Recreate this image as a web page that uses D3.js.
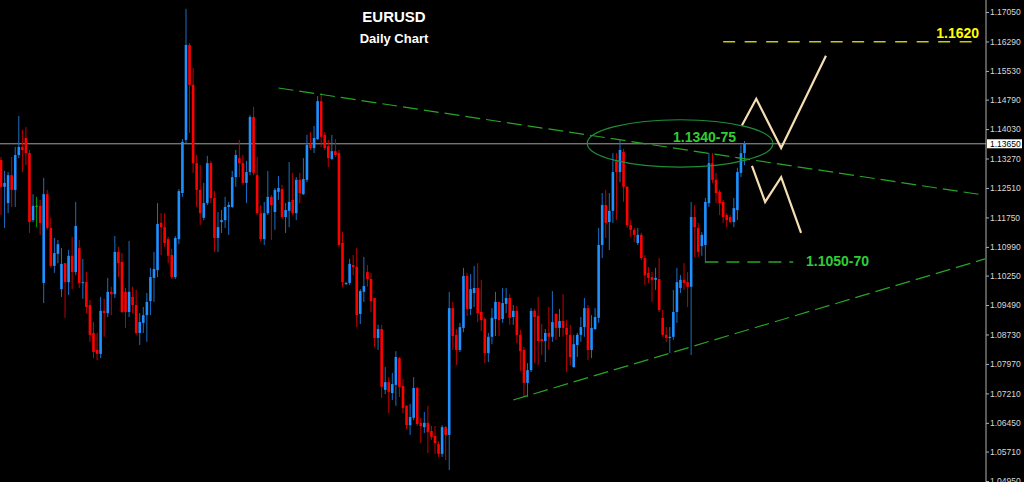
<!DOCTYPE html>
<html>
<head>
<meta charset="utf-8">
<script src="https://cdn.jsdelivr.net/npm/d3@7"></script>
<style>
body{margin:0;background:#000;}
svg{display:block;}
</style>
</head>
<body>
<svg id="chart" width="1024" height="482"></svg>
<script>
// daily bars, oldest first
var opens = [1.1323,1.1254,1.1212,1.1284,1.1246,1.1336,1.1357,1.1380,1.1341,1.1168,1.1205,1.1205,1.1006,1.1235,1.1148,1.1050,1.1081,1.0990,1.1057,1.1008,
1.1076,1.1034,1.1096,1.1006,1.1008,1.0949,1.0877,1.0833,1.0823,1.0934,1.0928,1.0983,1.0977,1.1086,1.1060,1.0983,1.0931,1.0970,1.0949,1.0877,
1.0903,1.0923,1.0959,1.1019,1.1039,1.1161,1.1150,1.1119,1.1078,1.1021,1.1119,1.1238,1.1375,1.1620,1.1517,1.1315,1.1246,1.1174,1.1212,1.1315,
1.1225,1.1122,1.1163,1.1168,1.1202,1.1202,1.1279,1.1328,1.1315,1.1264,1.1292,1.1434,1.1284,1.1186,1.1119,1.1186,1.1228,1.1189,1.1241,1.1248,
1.1176,1.1192,1.1220,1.1186,1.1272,1.1235,1.1272,1.1364,1.1354,1.1377,1.1475,1.1388,1.1359,1.1326,1.1346,1.1341,1.1109,1.1003,1.1006,1.1052,
1.1047,1.0926,1.0983,1.1034,1.1016,1.0967,1.0864,1.0887,1.0730,1.0750,1.0722,1.0743,1.0812,1.0740,1.0689,1.0639,1.0658,1.0735,1.0645,1.0634,
1.0645,1.0624,1.0611,1.0590,1.0565,1.0634,1.0614,1.0941,1.0872,1.0833,1.0890,1.1024,1.0939,1.0980,1.0993,1.0931,1.0913,1.0825,1.0867,1.0913,
1.0957,1.0913,1.0952,1.0967,1.0918,1.0934,1.0872,1.0833,1.0748,1.0781,1.0934,1.0921,1.0861,1.0856,1.0877,1.0867,1.0926,1.0890,1.0908,1.0890,
1.0872,1.0789,1.0846,1.0872,1.0892,1.0941,1.0833,1.0887,1.0916,1.1104,1.1207,1.1163,1.1192,1.1323,1.1292,1.1344,1.1254,1.1155,1.1143,1.1109,
1.1130,1.1070,1.1032,1.1021,1.1014,1.1016,1.0916,1.0872,1.0864,1.0867,1.0931,1.0993,1.1014,1.1008,1.0996,1.1176,1.1148,1.1101,1.1104,1.1212,
1.1315,1.1272,1.1241,1.1215,1.1181,1.1176,1.1163,1.1194,1.1290,1.1341];
var highs = [1.1331,1.1295,1.1292,1.1331,1.1357,1.1437,1.1401,1.1408,1.1349,1.1235,1.1228,1.1220,1.1277,1.1246,1.1174,1.1122,1.1117,1.1096,1.1057,1.1091,
1.1125,1.1215,1.1117,1.1068,1.1034,1.0962,1.0905,1.0877,1.0970,1.0965,1.1019,1.0996,1.1127,1.1099,1.1083,1.0993,1.1114,1.0996,1.0988,1.0928,
1.0944,1.0980,1.1045,1.1086,1.1212,1.1186,1.1186,1.1125,1.1094,1.1127,1.1248,1.1377,1.1713,1.1625,1.1561,1.1336,1.1310,1.1264,1.1334,1.1321,
1.1243,1.1189,1.1194,1.1228,1.1215,1.1295,1.1349,1.1375,1.1336,1.1321,1.1439,1.1460,1.1331,1.1207,1.1215,1.1295,1.1233,1.1251,1.1282,1.1259,
1.1212,1.1318,1.1290,1.1279,1.1290,1.1328,1.1388,1.1395,1.1411,1.1488,1.1496,1.1395,1.1375,1.1388,1.1377,1.1349,1.1137,1.1008,1.1068,1.1078,
1.1096,1.0990,1.1073,1.1052,1.1032,1.0967,1.0898,1.0898,1.0789,1.0763,1.0774,1.0830,1.0815,1.0758,1.0691,1.0694,1.0763,1.0738,1.0658,1.0673,
1.0689,1.0637,1.0637,1.0598,1.0639,1.0637,1.0983,1.0957,1.0887,1.0903,1.1045,1.1032,1.1029,1.1050,1.1057,1.1014,1.0918,1.0877,1.0941,1.0983,
1.0957,1.0993,1.0993,1.0977,1.0949,1.0947,1.0885,1.0841,1.0799,1.0941,1.0939,1.0970,1.0900,1.0887,1.0944,1.0985,1.0928,1.0939,1.0977,1.0910,
1.0898,1.0872,1.0877,1.0918,1.0967,1.0949,1.0923,1.0941,1.1148,1.1238,1.1246,1.1238,1.1341,1.1341,1.1375,1.1352,1.1256,1.1168,1.1148,1.1148,
1.1135,1.1078,1.1047,1.1034,1.1045,1.1070,1.0936,1.0892,1.0892,1.0988,1.1045,1.1026,1.1057,1.1034,1.1215,1.1207,1.1161,1.1137,1.1225,1.1341,
1.1341,1.1290,1.1246,1.1220,1.1186,1.1181,1.1225,1.1303,1.1362,1.1372];
var lows = [1.1181,1.1148,1.1186,1.1202,1.1202,1.1328,1.1292,1.1310,1.1135,1.1163,1.1150,1.1130,1.0954,1.1143,1.1045,1.1032,1.1057,1.0970,1.0916,1.0975,
1.0990,1.1026,1.0993,1.0965,1.0928,1.0854,1.0812,1.0807,1.0812,1.0867,1.0918,1.0923,1.0967,1.1021,1.0928,1.0890,1.0918,1.0928,1.0872,1.0846,
1.0877,1.0854,1.0923,1.0957,1.1021,1.1078,1.1099,1.1057,1.1016,1.1016,1.1106,1.1228,1.1367,1.1393,1.1290,1.1202,1.1155,1.1168,1.1207,1.1212,
1.1086,1.1086,1.1135,1.1148,1.1130,1.1199,1.1254,1.1279,1.1259,1.1212,1.1284,1.1284,1.1181,1.1112,1.1104,1.1181,1.1117,1.1143,1.1220,1.1171,
1.1135,1.1150,1.1181,1.1168,1.1212,1.1233,1.1266,1.1349,1.1341,1.1375,1.1357,1.1349,1.1305,1.1323,1.1331,1.1099,1.0996,1.1001,1.1001,1.1026,
1.0892,1.0900,1.0957,1.0996,1.0931,1.0841,1.0833,1.0709,1.0719,1.0670,1.0704,1.0689,1.0712,1.0670,1.0629,1.0614,1.0652,1.0637,1.0593,1.0619,
1.0567,1.0601,1.0565,1.0557,1.0557,1.0549,1.0523,1.0833,1.0794,1.0828,1.0879,1.0921,1.0923,1.0944,1.0905,1.0882,1.0799,1.0802,1.0848,1.0869,
1.0869,1.0903,1.0928,1.0898,1.0898,1.0851,1.0779,1.0712,1.0712,1.0776,1.0799,1.0794,1.0820,1.0802,1.0833,1.0854,1.0859,1.0867,1.0867,1.0776,
1.0794,1.0787,1.0815,1.0854,1.0867,1.0807,1.0812,1.0885,1.0903,1.1070,1.1122,1.1091,1.1161,1.1168,1.1266,1.1215,1.1148,1.1125,1.1112,1.1104,
1.1065,1.1001,1.1006,1.0957,1.0988,1.0931,1.0867,1.0854,1.0825,1.0859,1.0903,1.0980,1.0988,1.0944,1.0820,1.1073,1.1073,1.1076,1.1057,1.1202,
1.1264,1.1212,1.1181,1.1161,1.1150,1.1161,1.1150,1.1168,1.1279,1.1310];
var closes = [1.1254,1.1264,1.1284,1.1246,1.1336,1.1357,1.1349,1.1341,1.1163,1.1205,1.1205,1.1161,1.1235,1.1148,1.1050,1.1083,1.1106,1.1055,1.1008,1.1076,
1.1034,1.1153,1.1006,1.1008,1.0944,1.0872,1.0828,1.0823,1.0934,1.0928,1.0983,1.0977,1.1086,1.1057,1.0931,1.0931,1.0983,1.0949,1.0877,1.0905,
1.0923,1.0957,1.1021,1.1042,1.1158,1.1150,1.1109,1.1076,1.1021,1.1122,1.1243,1.1370,1.1620,1.1517,1.1315,1.1246,1.1186,1.1212,1.1315,1.1225,
1.1122,1.1150,1.1168,1.1202,1.1207,1.1279,1.1336,1.1315,1.1264,1.1292,1.1434,1.1290,1.1186,1.1119,1.1186,1.1228,1.1207,1.1246,1.1251,1.1176,
1.1194,1.1215,1.1186,1.1272,1.1238,1.1274,1.1362,1.1354,1.1380,1.1475,1.1383,1.1354,1.1328,1.1346,1.1336,1.1104,1.1008,1.1006,1.1055,1.1047,
1.0923,1.0985,1.0998,1.1016,1.0959,1.0864,1.0887,1.0738,1.0750,1.0725,1.0745,1.0815,1.0738,1.0683,1.0639,1.0660,1.0735,1.0642,1.0637,1.0645,
1.0621,1.0609,1.0593,1.0565,1.0634,1.0614,1.0941,1.0869,1.0833,1.0892,1.1024,1.0939,1.0990,1.0993,1.0928,1.0910,1.0825,1.0867,1.0916,1.0957,
1.0910,1.0954,1.0967,1.0916,1.0934,1.0872,1.0830,1.0748,1.0781,1.0934,1.0918,1.0856,1.0856,1.0877,1.0867,1.0905,1.0890,1.0908,1.0890,1.0872,
1.0815,1.0848,1.0872,1.0892,1.0941,1.0833,1.0890,1.0918,1.1104,1.1207,1.1161,1.1192,1.1292,1.1292,1.1349,1.1254,1.1155,1.1143,1.1130,1.1130,
1.1070,1.1026,1.1019,1.1014,1.1019,1.0936,1.0872,1.0864,1.0867,1.0931,1.1008,1.1014,1.1006,1.0996,1.1176,1.1150,1.1086,1.1130,1.1215,1.1315,
1.1272,1.1238,1.1212,1.1176,1.1168,1.1163,1.1199,1.1292,1.1341,1.1365];

var priceTicks = [1.17050,1.16290,1.15530,1.14790,1.14030,1.13270,1.12510,1.11750,1.10990,1.10250,1.09490,1.08730,1.07970,1.07210,1.06450,1.05710,1.04950];
var lastPrice = 1.13650;

// drawn objects, [bar index, price]
var trendUpper = [[78, 1.1509], [276, 1.1233]];
var trendLower = [[144, 1.0704], [276.6, 1.1068]];
var targetLine = [[203, 1.1628], [273.5, 1.1628]];
var supportLine = [[198, 1.1060], [222.7, 1.1060]];
var pathUp = [[208.3, 1.1413], [212.3, 1.1481], [219.3, 1.1354], [231.9, 1.1592]];
var pathDown = [[211.1, 1.1308], [214.8, 1.1215], [219.3, 1.1279], [224.9, 1.1135]];
var zoneCenter = [190.9, 1.1366];
var zoneHalf = [26.1, 0.0061];
var noteText = ['1.1340-75', '1.1050-70', '1.1620'];
var notePos = [[188.9, 1.1370], [226.3, 1.1050], [262.9, 1.1637]];
var noteColor = ['#33cc33', '#33cc33', '#ffff00'];

var W = 1024, H = 482, axisX = 986;

var x = d3.scaleLinear().domain([0, 209]).range([1, 744.5]);
var y = d3.scaleLinear().domain([1.1705, 1.0495]).range([12, 481]);

var svg = d3.select('#chart');
svg.append('rect').attr('width', W).attr('height', H).attr('fill', '#000');

// title
svg.append('text').attr('x', 394).attr('y', 22).attr('text-anchor', 'middle')
	.attr('fill', '#fff').style('font', 'bold 15px "Liberation Sans", Arial, sans-serif').text('EURUSD');
svg.append('text').attr('x', 394).attr('y', 43).attr('text-anchor', 'middle')
	.attr('fill', '#fff').style('font', 'bold 13px "Liberation Sans", Arial, sans-serif').text('Daily Chart');

// price line
svg.append('line').attr('x1', 0).attr('x2', axisX)
	.attr('y1', y(lastPrice)).attr('y2', y(lastPrice))
	.attr('stroke', '#a0a0a0').attr('stroke-width', 1);

var bars = opens.map(function(o, i){
	return {i: i, o: o, h: highs[i], l: lows[i], c: closes[i]};
});

function bodyCol(d){
	if (d.c > d.o) return '#1e90ff';
	if (d.c < d.o) return '#ff0000';
	return '#00c000';
}
function wickCol(d){
	if (d.c > d.o) return '#1a6ec4';
	if (d.c < d.o) return '#c40000';
	return '#00a000';
}

var candles = svg.append('g');
candles.selectAll('line').data(bars).enter().append('line')
	.attr('x1', function(d){ return x(d.i); })
	.attr('x2', function(d){ return x(d.i); })
	.attr('y1', function(d){ return y(d.h); })
	.attr('y2', function(d){ return y(d.l); })
	.attr('stroke', wickCol)
	.attr('stroke-width', 1);
candles.selectAll('rect').data(bars).enter().append('rect')
	.attr('x', function(d){ return x(d.i) - 1.3; })
	.attr('width', 2.6)
	.attr('y', function(d){ return y(Math.max(d.o, d.c)); })
	.attr('height', function(d){ return Math.max(1, Math.abs(y(d.o) - y(d.c))); })
	.attr('fill', bodyCol);

var line = d3.line().x(function(d){ return x(d[0]); }).y(function(d){ return y(d[1]); });

svg.append('path').attr('d', line(trendUpper)).attr('fill', 'none')
	.attr('stroke', '#28a428').attr('stroke-width', 1.2).attr('stroke-dasharray', '15,6');
svg.append('path').attr('d', line(trendLower)).attr('fill', 'none')
	.attr('stroke', '#28a428').attr('stroke-width', 1.2).attr('stroke-dasharray', '15,6');
svg.append('path').attr('d', line(targetLine)).attr('fill', 'none')
	.attr('stroke', '#cccc00').attr('stroke-width', 1.5).attr('stroke-dasharray', '12,9.5');
svg.append('path').attr('d', line(supportLine)).attr('fill', 'none')
	.attr('stroke', '#28a428').attr('stroke-width', 1.5).attr('stroke-dasharray', '13,8');

svg.append('ellipse')
	.attr('cx', x(zoneCenter[0])).attr('cy', y(zoneCenter[1]))
	.attr('rx', x(zoneCenter[0] + zoneHalf[0]) - x(zoneCenter[0]))
	.attr('ry', y(zoneCenter[1] - zoneHalf[1]) - y(zoneCenter[1]))
	.attr('fill', 'none').attr('stroke', '#1f8f3a').attr('stroke-width', 1.2);

svg.append('path').attr('d', line(pathUp)).attr('fill', 'none')
	.attr('stroke', '#f5deb3').attr('stroke-width', 2.2);
svg.append('path').attr('d', line(pathDown)).attr('fill', 'none')
	.attr('stroke', '#f5deb3').attr('stroke-width', 2.2);

svg.selectAll('text.note').data(noteText).enter().append('text')
	.attr('class', 'note')
	.attr('x', function(d, i){ return x(notePos[i][0]); })
	.attr('y', function(d, i){ return y(notePos[i][1]); })
	.attr('fill', function(d, i){ return noteColor[i]; })
	.style('font', 'bold 14px "Liberation Sans", Arial, sans-serif')
	.text(function(d){ return d; });

// right price scale
svg.append('line').attr('x1', axisX).attr('x2', axisX).attr('y1', 0).attr('y2', H)
	.attr('stroke', '#b0b0b0');
var yAxis = d3.axisRight(y).tickValues(priceTicks).tickSize(3).tickSizeOuter(0).tickPadding(1)
	.tickFormat(d3.format('.5f'));
var gAxis = svg.append('g').attr('transform', 'translate(' + axisX + ',0)').call(yAxis);
gAxis.select('.domain').remove();
gAxis.selectAll('line').attr('stroke', '#b0b0b0');
gAxis.selectAll('text').attr('fill', '#d8d8d8')
	.style('font', '8.5px "Liberation Sans", Arial, sans-serif');

// current price tag
var tag = svg.append('g').attr('transform', 'translate(' + (axisX + 1) + ',' + y(lastPrice) + ')');
tag.append('rect').attr('x', 0).attr('y', -4.5).attr('width', 35).attr('height', 9).attr('fill', '#fff');
tag.append('text').attr('x', 3).attr('y', 0).attr('dy', '0.32em').attr('fill', '#000')
	.style('font', '8.5px "Liberation Sans", Arial, sans-serif').text(d3.format('.5f')(lastPrice));
</script>
</body>
</html>
